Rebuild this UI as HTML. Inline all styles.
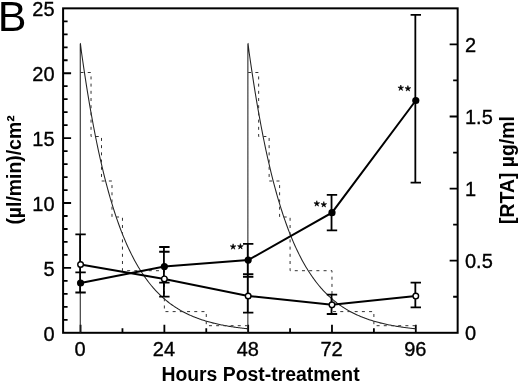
<!DOCTYPE html>
<html><head><meta charset="utf-8"><style>
html,body{margin:0;padding:0;background:#fff;width:520px;height:383px;overflow:hidden}
svg{display:block;filter:grayscale(1)}
text{font-family:"Liberation Sans",sans-serif;fill:#000}
.tl{font-size:20px;stroke:#000;stroke-width:0.35px}
.tt{font-size:19.4px;font-weight:bold}
.bl{font-size:43px}
.ast{font-size:16px;font-weight:bold}
</style></head><body>
<svg width="520" height="383" viewBox="0 0 520 383">
<rect x="63.1" y="8.35" width="394.55" height="324.45" fill="none" stroke="#000" stroke-width="2"/>
<path d="M63.1 319.82h4.5 M63.1 306.84h4.5 M63.1 293.87h4.5 M63.1 280.89h4.5 M63.1 267.91h8 M63.1 254.93h4.5 M63.1 241.95h4.5 M63.1 228.98h4.5 M63.1 216h4.5 M63.1 203.02h8 M63.1 190.04h4.5 M63.1 177.06h4.5 M63.1 164.09h4.5 M63.1 151.11h4.5 M63.1 138.13h8 M63.1 125.15h4.5 M63.1 112.17h4.5 M63.1 99.2h4.5 M63.1 86.22h4.5 M63.1 73.24h8 M63.1 60.26h4.5 M63.1 47.28h4.5 M63.1 34.31h4.5 M63.1 21.33h4.5 M457.65 296.75h-4.5 M457.65 260.7h-8 M457.65 224.65h-4.5 M457.65 188.6h-8 M457.65 152.55h-4.5 M457.65 116.5h-8 M457.65 80.45h-4.5 M457.65 44.4h-8 M80.56 332.8v-8 M122.46 332.8v-4.5 M164.37 332.8v-8 M206.27 332.8v-4.5 M248.18 332.8v-8 M290.08 332.8v-4.5 M331.98 332.8v-8 M373.89 332.8v-4.5 M415.79 332.8v-8" stroke="#000" stroke-width="1.8" fill="none"/>
<path d="M80.26 332.8 L80.26 44 L80.46 43.8 L81.46 51.96 L82.46 59.03 L83.46 65.92 L84.46 72.65 L85.46 79.2 L86.46 85.59 L87.46 91.81 L88.46 97.88 L89.46 103.8 L90.46 109.57 L91.46 115.19 L92.46 120.67 L93.46 126.01 L94.46 131.22 L95.46 136.3 L96.46 141.25 L97.46 146.07 L98.46 150.78 L99.46 155.36 L100.46 159.83 L101.46 164.19 L102.46 168.43 L103.46 172.57 L104.46 176.61 L105.46 180.54 L106.46 184.38 L107.46 188.12 L108.46 191.76 L109.46 195.31 L110.46 198.78 L111.46 202.15 L112.46 205.44 L113.46 208.65 L114.46 211.78 L115.46 214.83 L116.46 217.8 L117.46 220.69 L118.46 223.52 L119.46 226.27 L120.46 228.95 L121.46 231.57 L122.46 234.12 L123.46 236.6 L124.46 239.03 L125.46 241.39 L126.46 243.69 L127.46 245.94 L128.46 248.12 L129.46 250.26 L130.46 252.33 L131.46 254.36 L132.46 256.34 L133.46 258.26 L134.46 260.14 L135.46 261.97 L136.46 263.75 L137.46 265.49 L138.46 267.19 L139.46 268.84 L140.46 270.45 L141.46 272.02 L142.46 273.55 L143.46 275.05 L144.46 276.5 L145.46 277.92 L146.46 279.3 L147.46 280.65 L148.46 281.96 L149.46 283.24 L150.46 284.49 L151.46 285.71 L152.46 286.89 L153.46 288.05 L154.46 289.18 L155.46 290.28 L156.46 291.35 L157.46 292.39 L158.46 293.41 L159.46 294.4 L160.46 295.37 L161.46 296.31 L162.46 297.23 L163.46 298.13 L164.46 299 L165.46 299.85 L166.46 300.68 L167.46 301.49 L168.46 302.28 L169.46 303.05 L170.46 303.8 L171.46 304.53 L172.46 305.24 L173.46 305.93 L174.46 306.61 L175.46 307.27 L176.46 307.91 L177.46 308.54 L178.46 309.15 L179.46 309.75 L180.46 310.33 L181.46 310.89 L182.46 311.44 L183.46 311.98 L184.46 312.51 L185.46 313.02 L186.46 313.52 L187.46 314 L188.46 314.48 L189.46 314.94 L190.46 315.39 L191.46 315.83 L192.46 316.25 L193.46 316.67 L194.46 317.08 L195.46 317.47 L196.46 317.86 L197.46 318.23 L198.46 318.6 L199.46 318.96 L200.46 319.31 L201.46 319.65 L202.46 319.98 L203.46 320.3 L204.46 320.62 L205.46 320.92 L206.46 321.22 L207.46 321.51 L208.46 321.8 L209.46 322.08 L210.46 322.35 L211.46 322.61 L212.46 322.87 L213.46 323.12 L214.46 323.36 L215.46 323.6 L216.46 323.83 L217.46 324.06 L218.46 324.28 L219.46 324.49 L220.46 324.7 L221.46 324.9 L222.46 325.1 L223.46 325.3 L224.46 325.49 L225.46 325.67 L226.46 325.85 L227.46 326.02 L228.46 326.19 L229.46 326.36 L230.46 326.52 L231.46 326.68 L232.46 326.84 L233.46 326.99 L234.46 327.13 L235.46 327.27 L236.46 327.41 L237.46 327.55 L238.46 327.68 L239.46 327.81 L240.46 327.94 L241.46 328.06 L242.46 328.18 L243.46 328.29 L244.46 328.41 L245.46 328.52 L246.46 328.63 L247.46 328.73 L248.18 328.81 M247.88 332.8 L247.88 44 L248.08 43.8 L249.08 51.96 L250.08 59.03 L251.08 65.92 L252.08 72.65 L253.08 79.2 L254.08 85.59 L255.08 91.81 L256.08 97.88 L257.08 103.8 L258.08 109.57 L259.08 115.19 L260.08 120.67 L261.08 126.01 L262.08 131.22 L263.08 136.3 L264.08 141.25 L265.08 146.07 L266.08 150.78 L267.08 155.36 L268.08 159.83 L269.08 164.19 L270.08 168.43 L271.08 172.57 L272.08 176.61 L273.08 180.54 L274.08 184.38 L275.08 188.12 L276.08 191.76 L277.08 195.31 L278.08 198.78 L279.08 202.15 L280.08 205.44 L281.08 208.65 L282.08 211.78 L283.08 214.83 L284.08 217.8 L285.08 220.69 L286.08 223.52 L287.08 226.27 L288.08 228.95 L289.08 231.57 L290.08 234.12 L291.08 236.6 L292.08 239.03 L293.08 241.39 L294.08 243.69 L295.08 245.94 L296.08 248.12 L297.08 250.26 L298.08 252.33 L299.08 254.36 L300.08 256.34 L301.08 258.26 L302.08 260.14 L303.08 261.97 L304.08 263.75 L305.08 265.49 L306.08 267.19 L307.08 268.84 L308.08 270.45 L309.08 272.02 L310.08 273.55 L311.08 275.05 L312.08 276.5 L313.08 277.92 L314.08 279.3 L315.08 280.65 L316.08 281.96 L317.08 283.24 L318.08 284.49 L319.08 285.71 L320.08 286.89 L321.08 288.05 L322.08 289.18 L323.08 290.28 L324.08 291.35 L325.08 292.39 L326.08 293.41 L327.08 294.4 L328.08 295.37 L329.08 296.31 L330.08 297.23 L331.08 298.13 L332.08 299 L333.08 299.85 L334.08 300.68 L335.08 301.49 L336.08 302.28 L337.08 303.05 L338.08 303.8 L339.08 304.53 L340.08 305.24 L341.08 305.93 L342.08 306.61 L343.08 307.27 L344.08 307.91 L345.08 308.54 L346.08 309.15 L347.08 309.75 L348.08 310.33 L349.08 310.89 L350.08 311.44 L351.08 311.98 L352.08 312.51 L353.08 313.02 L354.08 313.52 L355.08 314 L356.08 314.48 L357.08 314.94 L358.08 315.39 L359.08 315.83 L360.08 316.25 L361.08 316.67 L362.08 317.08 L363.08 317.47 L364.08 317.86 L365.08 318.23 L366.08 318.6 L367.08 318.96 L368.08 319.31 L369.08 319.65 L370.08 319.98 L371.08 320.3 L372.08 320.62 L373.08 320.92 L374.08 321.22 L375.08 321.51 L376.08 321.8 L377.08 322.08 L378.08 322.35 L379.08 322.61 L380.08 322.87 L381.08 323.12 L382.08 323.36 L383.08 323.6 L384.08 323.83 L385.08 324.06 L386.08 324.28 L387.08 324.49 L388.08 324.7 L389.08 324.9 L390.08 325.1 L391.08 325.3 L392.08 325.49 L393.08 325.67 L394.08 325.85 L395.08 326.02 L396.08 326.19 L397.08 326.36 L398.08 326.52 L399.08 326.68 L400.08 326.84 L401.08 326.99 L402.08 327.13 L403.08 327.27 L404.08 327.41 L405.08 327.55 L406.08 327.68 L407.08 327.81 L408.08 327.94 L409.08 328.06 L410.08 328.18 L411.08 328.29 L412.08 328.41 L413.08 328.52 L414.08 328.63 L415.08 328.73 L415.79 328.81" stroke="#222" stroke-width="1.05" fill="none"/>
<path d="M80.56 72.5 L91.04 72.5 L91.04 136.5 L101.51 136.5 L101.51 181 L111.99 181 L111.99 217 L122.46 217 L122.46 270.7 L164.37 270.7 L164.37 311.6 L206.27 311.6 L206.27 325.7 L248.18 325.7 M248.18 72.5 L258.65 72.5 L258.65 136.5 L269.13 136.5 L269.13 181 L279.6 181 L279.6 217 L290.08 217 L290.08 270.7 L331.98 270.7 L331.98 311.6 L373.89 311.6 L373.89 325.7 L415.79 325.7" stroke="#333" stroke-width="1" stroke-dasharray="3 4.2" fill="none"/>
<path d="M80.11 234.4V292.5 M75.36 234.4h10.4 M75.36 272.4h10.4 M75.36 292.5h10.4 M163.92 247V296.7 M159.17 247h10.4 M159.17 251.75h10.4 M159.17 282.6h10.4 M159.17 296.7h10.4 M247.73 243.8V312.7 M242.98 243.8h10.4 M242.98 274.2h10.4 M242.98 276.75h10.4 M242.98 312.7h10.4 M331.53 194.8V230.4 M326.78 194.8h10.4 M326.78 230.4h10.4 M331.53 294.7V314 M326.78 294.7h10.4 M326.78 314h10.4 M415.34 14.8V182.7 M410.59 14.8h10.4 M410.59 182.7h10.4 M415.34 282.7V307.4 M410.59 282.7h10.4 M410.59 307.4h10.4" stroke="#000" stroke-width="1.8" fill="none"/>
<polyline points="80.56,283 164.37,266.6 248.18,260.1 331.98,212.7 415.79,100.5" stroke="#000" stroke-width="2" fill="none"/>
<polyline points="80.56,264.5 164.37,278.9 248.18,296 331.98,304.8 415.79,296.1" stroke="#000" stroke-width="2" fill="none"/>
<circle cx="80.56" cy="283" r="3.6" fill="#000"/>
<circle cx="164.37" cy="266.6" r="3.6" fill="#000"/>
<circle cx="248.18" cy="260.1" r="3.6" fill="#000"/>
<circle cx="331.98" cy="212.7" r="3.6" fill="#000"/>
<circle cx="415.79" cy="100.5" r="3.6" fill="#000"/>
<circle cx="80.56" cy="264.5" r="2.8" fill="#fff" stroke="#000" stroke-width="1.4"/>
<circle cx="164.37" cy="278.9" r="2.8" fill="#fff" stroke="#000" stroke-width="1.4"/>
<circle cx="248.18" cy="296" r="2.8" fill="#fff" stroke="#000" stroke-width="1.4"/>
<circle cx="331.98" cy="304.8" r="2.8" fill="#fff" stroke="#000" stroke-width="1.4"/>
<circle cx="415.79" cy="296.1" r="2.8" fill="#fff" stroke="#000" stroke-width="1.4"/>
<path d="M233.1 243.8L233.72 245.95L235.95 245.87L234.1 247.12L234.86 249.23L233.1 247.85L231.34 249.23L232.1 247.12L230.25 245.87L232.48 245.95Z M240.4 243.6L241.02 245.75L243.25 245.67L241.4 246.92L242.16 249.03L240.4 247.65L238.64 249.03L239.4 246.92L237.55 245.67L239.78 245.75Z M316.8 200.7L317.42 202.85L319.65 202.77L317.8 204.02L318.56 206.13L316.8 204.75L315.04 206.13L315.8 204.02L313.95 202.77L316.18 202.85Z M323.8 201.6L324.42 203.75L326.65 203.67L324.8 204.92L325.56 207.03L323.8 205.65L322.04 207.03L322.8 204.92L320.95 203.67L323.18 203.75Z M400.8 85L401.42 87.15L403.65 87.07L401.8 88.32L402.56 90.43L400.8 89.05L399.04 90.43L399.8 88.32L397.95 87.07L400.18 87.15Z M407.9 85.6L408.52 87.75L410.75 87.67L408.9 88.92L409.66 91.03L407.9 89.65L406.14 91.03L406.9 88.92L405.05 87.67L407.28 87.75Z" fill="#000" stroke="#000" stroke-width="0.6" stroke-linejoin="round"/>
<text x="54.6" y="340.7" class="tl" text-anchor="end">0</text>
<text x="54.6" y="275.81" class="tl" text-anchor="end">5</text>
<text x="54.6" y="210.92" class="tl" text-anchor="end">10</text>
<text x="54.6" y="146.03" class="tl" text-anchor="end">15</text>
<text x="54.6" y="81.14" class="tl" text-anchor="end">20</text>
<text x="54.6" y="16.25" class="tl" text-anchor="end">25</text>
<text x="465" y="340.4" class="tl">0</text>
<text x="465" y="268.3" class="tl">0.5</text>
<text x="465" y="196.2" class="tl">1</text>
<text x="465" y="124.1" class="tl">1.5</text>
<text x="465" y="52" class="tl">2</text>
<text x="80.16" y="355.8" class="tl" text-anchor="middle">0</text>
<text x="163.97" y="355.8" class="tl" text-anchor="middle">24</text>
<text x="247.78" y="355.8" class="tl" text-anchor="middle">48</text>
<text x="331.58" y="355.8" class="tl" text-anchor="middle">72</text>
<text x="415.39" y="355.8" class="tl" text-anchor="middle">96</text>
<text x="260.5" y="381" class="tt" text-anchor="middle">Hours Post-treatment</text>
<text transform="translate(21,170) rotate(-90)" class="tt" text-anchor="middle">(µl/min)/cm²</text>
<text transform="translate(514,170) rotate(-90)" class="tt" text-anchor="middle">[RTA] µg/ml</text>
<text x="-2.3" y="31" class="bl">B</text>
</svg>
</body></html>
